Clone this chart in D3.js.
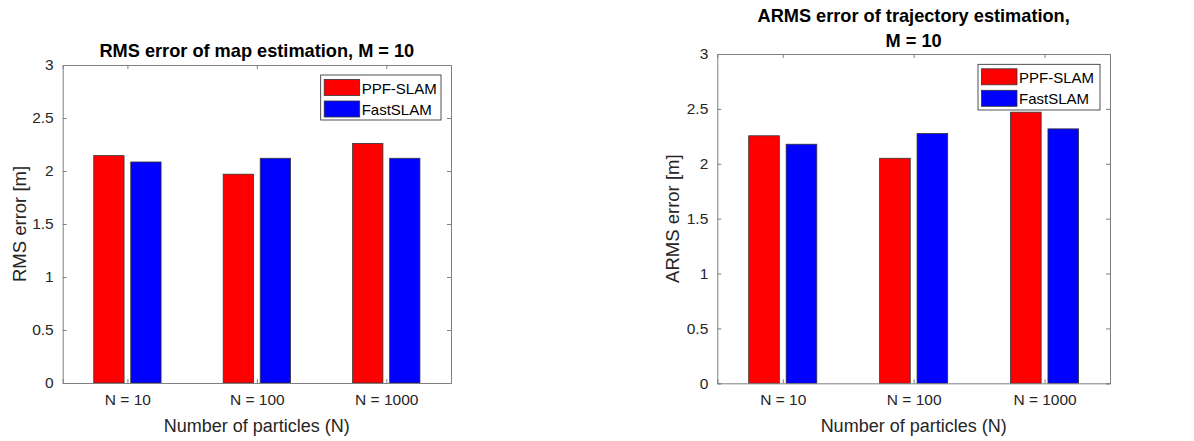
<!DOCTYPE html>
<html>
<head>
<meta charset="utf-8">
<script src="https://cdn.jsdelivr.net/npm/d3@7"></script>
<style>
  body { margin: 0; background: #fff; }
  svg { display: block; font-family: "Liberation Sans", Arial, sans-serif; }
</style>
</head>
<body>
<svg id="chart" width="1194" height="441"></svg>
<script>
// ---- Data ----
const categories = ["N = 10", "N = 100", "N = 1000"];
const seriesNames = ["PPF-SLAM", "FastSLAM"];
const seriesColors = ["#ff0000", "#0000ff"];
const mapPPF = [2.145, 1.97, 2.26];
const mapFast = [2.085, 2.12, 2.12];
const trajPPF = [2.255, 2.05, 2.47];
const trajFast = [2.178, 2.275, 2.318];
const yTicks = [0, 0.5, 1, 1.5, 2, 2.5, 3];

const svg = d3.select("#chart");
const textColor = "#262626";
const axisColor = "#808080";

function drawPanel(cfg) {
  const g = svg.append("g");
  const x = d3.scaleLinear().domain([0.5, 3.5]).range([cfg.left, cfg.right]);
  const y = d3.scaleLinear().domain([0, 3]).range([cfg.bottom, cfg.top]);
  const unitPx = x(1) - x(0);
  const barW = 0.234 * unitPx;
  const offsets = [-0.143, 0.143];
  const values = [cfg.ppf, cfg.fast];

  // bars
  values.forEach((vals, si) => {
    g.selectAll(null).data(vals).enter().append("rect")
      .attr("x", (d, i) => x(i + 1 + offsets[si]) - barW / 2)
      .attr("y", d => y(d))
      .attr("width", barW)
      .attr("height", d => y(0) - y(d))
      .attr("fill", seriesColors[si])
      .attr("stroke", "#333")
      .attr("stroke-width", 0.8);
  });

  // axes (inward ticks)
  const yAxisL = d3.axisLeft(y).tickValues(yTicks).tickSize(-4).tickPadding(9)
    .tickFormat(d3.format("~g"));
  const yAxisR = d3.axisRight(y).tickValues(yTicks).tickSize(-4).tickFormat("");
  const xAxisB = d3.axisBottom(x).tickValues([1, 2, 3]).tickSize(-4).tickPadding(11)
    .tickFormat((d, i) => categories[i]);
  const xAxisT = d3.axisTop(x).tickValues([1, 2, 3]).tickSize(-4).tickFormat("");

  const axes = [
    g.append("g").attr("transform", `translate(${cfg.left},0)`).call(yAxisL),
    g.append("g").attr("transform", `translate(${cfg.right},0)`).call(yAxisR),
    g.append("g").attr("transform", `translate(0,${cfg.bottom})`).call(xAxisB),
    g.append("g").attr("transform", `translate(0,${cfg.top})`).call(xAxisT)
  ];
  axes.forEach(a => {
    a.select(".domain").attr("stroke", axisColor).attr("stroke-width", 1);
    a.selectAll(".tick line").attr("stroke", axisColor);
    a.selectAll(".tick text").attr("fill", textColor)
      .style("font-size", "15.5px").style("font-family", "Liberation Sans, Arial, sans-serif");
  });

  // title
  const cx = (cfg.left + cfg.right) / 2;
  cfg.title.forEach((t, i) => {
    g.append("text").attr("x", cx).attr("y", cfg.titleY[i])
      .attr("text-anchor", "middle").attr("fill", "#000")
      .style("font-size", "18.2px").style("font-weight", "bold").text(t);
  });

  // axis labels
  g.append("text").attr("x", cx).attr("y", 432)
    .attr("text-anchor", "middle").attr("fill", textColor)
    .style("font-size", "18px").text("Number of particles (N)");
  const cy = (cfg.top + cfg.bottom) / 2;
  g.append("text").attr("transform", `translate(${cfg.ylabX},${cy}) rotate(-90)`)
    .attr("text-anchor", "middle").attr("fill", textColor)
    .style("font-size", "18.5px").text(cfg.ylabel);

  // legend
  const L = cfg.legend;
  g.append("rect").attr("x", L.x).attr("y", L.y).attr("width", L.w).attr("height", L.h)
    .attr("fill", "#fff").attr("stroke", "#262626").attr("stroke-width", 0.8);
  seriesNames.forEach((name, i) => {
    const sy = L.y + 4.5 + i * 21.5;
    g.append("rect").attr("x", L.x + 3.5).attr("y", sy).attr("width", 35.5).attr("height", 16)
      .attr("fill", seriesColors[i]).attr("stroke", "#333").attr("stroke-width", 0.8);
    g.append("text").attr("x", L.x + 41).attr("y", sy + 14)
      .attr("fill", "#000").style("font-size", "15px").text(name);
  });
}

drawPanel({
  left: 62.7, right: 451, top: 65, bottom: 383,
  ppf: mapPPF, fast: mapFast,
  title: ["RMS error of map estimation, M = 10"], titleY: [57],
  ylabel: "RMS error [m]", ylabX: 26,
  legend: { x: 320.7, y: 75, w: 120.3, h: 45 }
});

drawPanel({
  left: 717.3, right: 1110, top: 54, bottom: 383.3,
  ppf: trajPPF, fast: trajFast,
  title: ["ARMS error of trajectory estimation,", "M = 10"], titleY: [22, 46.5],
  ylabel: "ARMS error [m]", ylabX: 679,
  legend: { x: 978, y: 64.3, w: 122, h: 45.7 }
});
</script>
</body>
</html>
